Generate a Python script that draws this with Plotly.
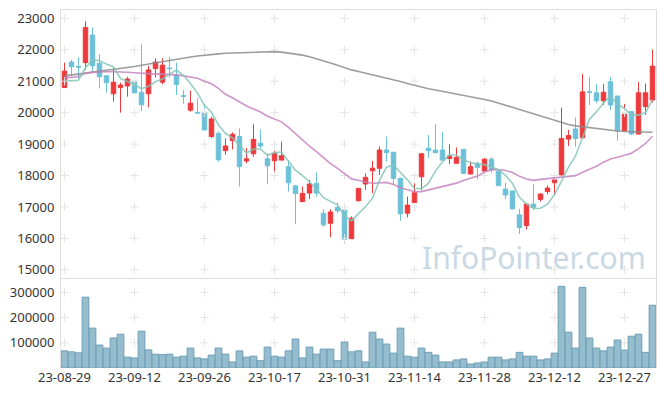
import plotly.graph_objects as go

dates = [
    "23-08-29", "23-08-30", "23-08-31", "23-09-01", "23-09-04", "23-09-05", "23-09-06", "23-09-07", "23-09-08", "23-09-11",
    "23-09-12", "23-09-13", "23-09-14", "23-09-15", "23-09-18", "23-09-19", "23-09-20", "23-09-21", "23-09-22", "23-09-25",
    "23-09-26", "23-09-27", "23-10-04", "23-10-05", "23-10-06", "23-10-10", "23-10-11", "23-10-12", "23-10-13", "23-10-16",
    "23-10-17", "23-10-18", "23-10-19", "23-10-20", "23-10-23", "23-10-24", "23-10-25", "23-10-26", "23-10-27", "23-10-30",
    "23-10-31", "23-11-01", "23-11-02", "23-11-03", "23-11-06", "23-11-07", "23-11-08", "23-11-09", "23-11-10", "23-11-13",
    "23-11-14", "23-11-15", "23-11-16", "23-11-17", "23-11-20", "23-11-21", "23-11-22", "23-11-23", "23-11-24", "23-11-27",
    "23-11-28", "23-11-29", "23-11-30", "23-12-01", "23-12-04", "23-12-05", "23-12-06", "23-12-07", "23-12-08", "23-12-11",
    "23-12-12", "23-12-13", "23-12-14", "23-12-15", "23-12-18", "23-12-19", "23-12-20", "23-12-21", "23-12-22", "23-12-26",
    "23-12-27", "23-12-28", "24-01-02", "24-01-03", "24-01-04",
]

opens = [
    20800, 21610, 21470, 21590, 22470, 21570, 21170, 20600, 20800, 20850,
    21000, 20650, 20600, 21400, 20970, 21420, 21200, 20540, 20080, 20010,
    20010, 19240, 19340, 18790, 19110, 19240, 18460, 18690, 19030, 18530,
    18470, 18490, 18280, 17670, 17170, 17440, 17750, 16800, 16480, 16990,
    16900, 15990, 17200, 17730, 18150, 18230, 18810, 18740, 17910, 16800,
    17140, 17960, 18870, 18810, 18810, 18540, 18390, 18830, 18050, 18390,
    18140, 18520, 18140, 17570, 17510, 16750, 16410, 17090, 17240, 17490,
    17770, 18020, 19160, 19480, 19200, 20660, 20630, 20380, 20980, 20530,
    19420, 20030, 19320, 20190, 20400,
]
highs = [
    21590, 21670, 21760, 22910, 22710, 21860, 21200, 21410, 20950, 21140,
    21070, 22170, 21490, 21730, 21730, 21760, 21590, 20720, 20700, 20460,
    20280, 19870, 19400, 19180, 19370, 19500, 18880, 19630, 19470, 18710,
    18790, 19080, 18490, 17700, 17650, 17860, 18100, 16930, 16930, 17140,
    17120, 16700, 17600, 18070, 18460, 18920, 19240, 18760, 17930, 17330,
    17750, 18720, 19290, 19640, 19390, 18990, 18890, 18840, 18440, 18440,
    18550, 18580, 18150, 17770, 17520, 16940, 17100, 17730, 17430, 17680,
    17960, 20160, 19450, 19850, 21230, 21140, 20910, 20910, 21140, 20530,
    20280, 20040, 20970, 20930, 22010,
]
lows = [
    20780, 21150, 21080, 21360, 21300, 20770, 20630, 20350, 20000, 20510,
    20610, 20050, 20170, 21120, 20900, 21120, 20560, 20280, 20030, 19970,
    19440, 19200, 18440, 18660, 18830, 17650, 18390, 18600, 18870, 17720,
    17910, 18480, 17490, 16450, 17150, 17250, 17330, 16370, 16040, 16800,
    15840, 15980, 17170, 17540, 17440, 18020, 18440, 17700, 16560, 16670,
    16900, 17520, 18550, 18700, 18480, 18370, 18380, 18050, 18030, 17880,
    18120, 18090, 17660, 17250, 16920, 16140, 16290, 16900, 17170, 17400,
    17380, 18000, 18940, 18920, 19190, 20240, 20300, 20240, 20080, 19110,
    19400, 19290, 19310, 19930, 20320,
]
closes = [
    21320, 21460, 21450, 22710, 21490, 21140, 20950, 20970, 20880, 21070,
    20630, 20250, 21360, 21610, 21510, 21400, 20900, 20520, 20300, 19990,
    19450, 19800, 18500, 18940, 19310, 18280, 18530, 19150, 18940, 18310,
    18710, 18630, 17770, 17430, 17430, 17730, 17440, 16430, 16840, 16880,
    15970, 16640, 17590, 17940, 18230, 18810, 18730, 17910, 16780, 17060,
    17450, 18690, 18790, 18730, 18490, 18620, 18580, 18070, 18280, 18260,
    18520, 18180, 17680, 17380, 16940, 16340, 17090, 16990, 17410, 17600,
    17860, 19180, 19270, 19180, 20660, 20650, 20380, 20650, 20240, 19420,
    19950, 19320, 20630, 20630, 21480,
]
volumes = [
    68000, 64000, 60000, 281000, 158000, 91000, 79000, 119000, 134000, 43000,
    40000, 146000, 72000, 55000, 53000, 55000, 43000, 47000, 79000, 40000,
    36000, 51000, 79000, 55000, 24000, 68000, 43000, 47000, 29000, 83000,
    47000, 43000, 68000, 115000, 40000, 83000, 55000, 75000, 75000, 29000,
    103000, 64000, 68000, 24000, 142000, 115000, 95000, 59000, 158000, 47000,
    43000, 79000, 62000, 51000, 24000, 24000, 32000, 36000, 16000, 20000,
    24000, 43000, 43000, 32000, 36000, 62000, 47000, 47000, 32000, 36000,
    59000, 324000, 142000, 79000, 320000, 119000, 79000, 68000, 83000, 111000,
    71000, 126000, 134000, 62000, 249000,
]
ma5 = [
    21040, 21010, 21030, 21430, 21686, 21650, 21548, 21452, 21086, 21002,
    20900, 20760, 20838, 20984, 21072, 21226, 21356, 21188, 20926, 20622,
    20232, 20012, 19608, 19336, 19200, 18966, 18712, 18842, 18842, 18642,
    18728, 18748, 18472, 18170, 17994, 17802, 17564, 17296, 17178, 17068,
    16716, 16556, 16788, 17008, 17278, 17846, 18264, 18328, 18096, 17862,
    17590, 17582, 17758, 18148, 18434, 18668, 18646, 18502, 18412, 18366,
    18346, 18266, 18188, 18008, 17744, 17308, 17090, 16952, 16958, 17090,
    17394, 17812, 18268, 18622, 19234, 19792, 20032, 20308, 20520, 20272,
    20132, 19922, 19922, 20002, 20412,
]
ma20 = [
    21120, 21120, 21150, 21250, 21280, 21300, 21300, 21300, 21300, 21285,
    21270, 21250, 21230, 21225, 21225, 21220, 21200, 21170, 21145, 21096,
    21002, 20919, 20772, 20583, 20474, 20331, 20210, 20119, 20022, 19884,
    19788, 19707, 19528, 19319, 19115, 18931, 18758, 18554, 18381, 18225,
    18051, 17893, 17848, 17798, 17744, 17770, 17780, 17718, 17610, 17548,
    17485, 17488, 17539, 17604, 17657, 17701, 17758, 17840, 17912, 17981,
    18109, 18186, 18190, 18162, 18098, 17974, 17892, 17846, 17878, 17905,
    17925, 17950, 17974, 17996, 18105, 18206, 18296, 18425, 18523, 18581,
    18653, 18710, 18857, 19020, 19247,
]
ma_long = [
    21170, 21200, 21220, 21250, 21270, 21300, 21330, 21360, 21390, 21430,
    21470, 21510, 21550, 21590, 21630, 21670, 21700, 21730, 21770, 21800,
    21830, 21850, 21870, 21890, 21900, 21910, 21920, 21925, 21930, 21935,
    21940, 21925, 21900, 21870, 21830, 21780, 21720, 21650, 21580, 21510,
    21430, 21360, 21310, 21260, 21210, 21160, 21100, 21050, 20990, 20930,
    20870, 20810, 20760, 20720, 20680, 20630, 20590, 20550, 20510, 20460,
    20420, 20370, 20310, 20240, 20170, 20100, 20030, 19970, 19890, 19820,
    19740, 19670, 19620, 19580, 19550, 19520, 19490, 19460, 19430, 19415,
    19400, 19390, 19385, 19380, 19375,
]
price_ticks = [15000, 16000, 17000, 18000, 19000, 20000, 21000, 22000, 23000]
volume_ticks = [100000, 200000, 300000]
date_ticks = dates[::10]

UP = "#ee3a3d"
DOWN = "#6cc0d8"
GRID = "#e4e4e4"
AXIS = "#dedede"
TXT = "#333333"
FONT = "Noto Sans"
VOL_RANGE = [0, 357000]

fig = go.Figure()

# grid crosses at tick intersections
fig.add_trace(go.Scatter(
    x=[d for d in date_ticks for _ in price_ticks],
    y=[p for _ in date_ticks for p in price_ticks],
    mode="markers", xaxis="x", yaxis="y", hoverinfo="skip", showlegend=False,
    marker=dict(symbol="cross-thin", size=6, line=dict(color=GRID, width=1)),
))
fig.add_trace(go.Scatter(
    x=[d for d in date_ticks for _ in volume_ticks],
    y=[v for _ in date_ticks for v in volume_ticks],
    mode="markers", xaxis="x2", yaxis="y2", hoverinfo="skip", showlegend=False,
    marker=dict(symbol="cross-thin", size=6, line=dict(color=GRID, width=1)),
))

fig.add_trace(go.Candlestick(
    x=dates, open=opens, high=highs, low=lows, close=closes,
    xaxis="x", yaxis="y", showlegend=False,
    increasing=dict(line=dict(color=UP, width=1), fillcolor=UP),
    decreasing=dict(line=dict(color=DOWN, width=1), fillcolor=DOWN),
))
fig.add_trace(go.Scatter(x=dates, y=ma_long, mode="lines", xaxis="x", yaxis="y", showlegend=False,
                         line=dict(color="rgba(140,140,140,0.85)", width=1.6)))
fig.add_trace(go.Scatter(x=dates, y=ma20, mode="lines", xaxis="x", yaxis="y", showlegend=False,
                         line=dict(color="rgba(196,130,192,0.85)", width=1.6)))
fig.add_trace(go.Scatter(x=dates, y=ma5, mode="lines", xaxis="x", yaxis="y", showlegend=False,
                         line=dict(color="rgba(132,198,186,0.85)", width=1.6)))

# volume bars on an overlaying axis so they sit above the grid crosses
fig.add_trace(go.Bar(
    x=dates, y=volumes, xaxis="x2", yaxis="y3", showlegend=False,
    marker=dict(color="#95bdce", line=dict(color="#6d9fb6", width=1)),
))

split = 0.2514
xcommon = dict(type="category", categoryorder="array", categoryarray=dates,
               range=[-0.5, 84.5], autorange=False, domain=[0, 1], automargin=False,
               showgrid=False, zeroline=False, rangeslider=dict(visible=False))
fig.update_layout(
    width=665, height=396,
    margin=dict(l=61, r=9, t=10, b=28, autoexpand=False),
    paper_bgcolor="white", plot_bgcolor="white",
    font=dict(family=FONT, size=13, color=TXT),
    boxgap=0.2, boxgroupgap=0.2, bargap=0.04,
    showlegend=False,
    xaxis=dict(**xcommon, anchor="y", showticklabels=False,
               showline=True, mirror=True, linecolor=AXIS, linewidth=1),
    yaxis=dict(domain=[split, 1], range=[14740, 23265], autorange=False, tickvals=price_ticks,
               tickformat="d", showgrid=False, zeroline=False, automargin=False,
               showline=True, mirror=True, linecolor=AXIS, linewidth=1,
               ticks="outside", ticklen=3, tickcolor="rgba(0,0,0,0)"),
    xaxis2=dict(**xcommon, anchor="y2",
                tickvals=date_ticks, ticktext=date_ticks,
                showline=False, ticks=""),
    yaxis2=dict(domain=[0, split], range=VOL_RANGE, autorange=False, tickvals=volume_ticks,
                tickformat="d", showgrid=False, zeroline=False, automargin=False,
                showline=True, mirror=True, linecolor=AXIS, linewidth=1,
                ticks="outside", ticklen=3, tickcolor="rgba(0,0,0,0)"),
    yaxis3=dict(overlaying="y2", anchor="x2", range=VOL_RANGE, autorange=False,
                showticklabels=False, showgrid=False, zeroline=False, showline=False,
                automargin=False),
    annotations=[dict(
        text="InfoPointer.com", xref="paper", yref="paper",
        x=0.9866, y=0.31, xanchor="right", yanchor="middle", showarrow=False,
        font=dict(family=FONT, size=30, color="#c9d8e3"),
    )],
)

fig.write_html(
    "out.html",
    config={"displayModeBar": False},
    post_script="document.body.style.margin='0';document.body.style.overflow='hidden';",
)
